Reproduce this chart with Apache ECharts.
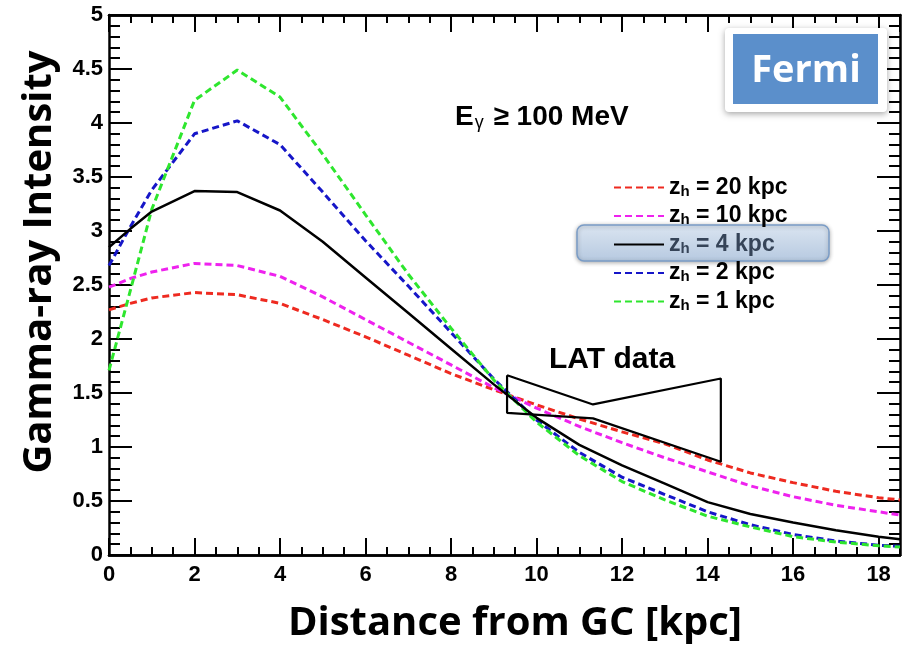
<!DOCTYPE html>
<html><head><meta charset="utf-8">
<script src="https://cdn.jsdelivr.net/npm/echarts@6/dist/echarts.min.js"></script>
<style>html,body{margin:0;padding:0;background:#fff}#c{width:908px;height:646px}</style>
</head><body><div id="c"></div>
<script>
// ---- data ----
const distance = [0, 0.5, 1, 2, 3, 4, 5, 6, 7, 8, 9, 10, 11, 12, 13, 14, 15, 16, 17, 18, 18.5];
const zh20 = [2.27, 2.33, 2.38, 2.43, 2.41, 2.33, 2.18, 2.02, 1.85, 1.68, 1.53, 1.39, 1.26, 1.14, 1.03, 0.88, 0.76, 0.67, 0.59, 0.53, 0.51];
const zh10 = [2.48, 2.56, 2.62, 2.70, 2.68, 2.58, 2.39, 2.18, 1.97, 1.76, 1.55, 1.36, 1.19, 1.04, 0.90, 0.77, 0.64, 0.54, 0.46, 0.40, 0.37];
const zh4  = [2.85, 3.02, 3.18, 3.37, 3.36, 3.19, 2.90, 2.57, 2.24, 1.91, 1.58, 1.27, 1.02, 0.83, 0.66, 0.49, 0.38, 0.30, 0.23, 0.17, 0.145];
const zh2  = [2.68, 3.04, 3.38, 3.90, 4.02, 3.80, 3.36, 2.91, 2.49, 2.06, 1.63, 1.25, 0.95, 0.72, 0.56, 0.40, 0.28, 0.19, 0.13, 0.09, 0.08];
const zh1  = [1.71, 2.45, 3.20, 4.21, 4.49, 4.24, 3.71, 3.15, 2.60, 2.10, 1.62, 1.23, 0.92, 0.68, 0.51, 0.36, 0.26, 0.17, 0.12, 0.085, 0.075];
const latX = [9.31, 11.32, 14.31, 14.31, 11.32, 9.31, 9.31];
const latY = [1.665, 1.394, 1.634, 0.863, 1.265, 1.316, 1.665];
const seriesNames = ['z_h = 20 kpc', 'z_h = 10 kpc', 'z_h = 4 kpc', 'z_h = 2 kpc', 'z_h = 1 kpc'];
const xLabels = [0, 2, 4, 6, 8, 10, 12, 14, 16, 18];
const yTitle = 'Gamma-ray Intensity';
const xTitle = 'Distance from GC [kpc]';

// ---- chart ----
const pair = (xs, ys) => xs.map((x, i) => [x, ys[i]]);
const HEL = '"Liberation Sans", Arial, Helvetica, sans-serif';
const tickStyle = {color: '#000', width: 2};
const axLine = {show: true, onZero: false, lineStyle: {color: '#000', width: 2.5}};

function xAx(pos, major, labels) {
  return {
    type: 'value', min: 0, max: 18.5, interval: major ? 2 : 0.5, position: pos,
    axisLine: axLine,
    axisTick: {inside: true, length: major ? 17 : 8, lineStyle: tickStyle},
    splitLine: {show: false},
    axisLabel: labels ? {show: true, showMaxLabel: false, fontFamily: HEL, fontWeight: 'bold', fontSize: 22, color: '#000', margin: 9,
      formatter: v => (xLabels.indexOf(v) >= 0 ? String(v) : '')} : {show: false}
  };
}
function yAx(pos, labels) {
  return {
    type: 'value', min: 0, max: 5, interval: 0.5, position: pos,
    axisLine: axLine,
    axisTick: {inside: true, length: 23, lineStyle: tickStyle},
    minorTick: {show: true, splitNumber: 5, length: 11, lineStyle: tickStyle},
    splitLine: {show: false}, minorSplitLine: {show: false},
    axisLabel: labels ? {show: true, fontFamily: HEL, fontWeight: 'bold', fontSize: 22, color: '#000', margin: 6} : {show: false}
  };
}

const dash = [7, 4];
function curve(name, ys, color, type, width) {
  return {
    name, type: 'line', data: pair(distance, ys), xAxisIndex: 0, yAxisIndex: 0,
    symbol: 'none', smooth: false, z: 3,
    lineStyle: {color, width, type}, itemStyle: {color}
  };
}

const chart = echarts.init(document.getElementById('c'));
chart.setOption({
  animation: false,
  backgroundColor: '#fff',
  grid: {left: 109, right: 8, top: 15, bottom: 91, containLabel: false},
  xAxis: [xAx('bottom', false, false), xAx('bottom', true, true), xAx('top', false, false), xAx('top', true, false)],
  yAxis: [yAx('left', true), yAx('right', false)],
  legend: {
    show: true, orient: 'vertical', left: 613, top: 176, padding: 0, z: 6,
    itemWidth: 50, itemHeight: 14, itemGap: 5.5,
    itemStyle: {opacity: 0},
    data: seriesNames.map((n, i) => ({name: n, textStyle: {color: i === 2 ? '#364458' : '#000'}})),
    formatter: n => '{z|z}{h|h}{t|' + n.slice(3) + '}',
    textStyle: {
      fontFamily: HEL, fontWeight: 'bold', fontSize: 23,
      rich: {
        z: {fontFamily: HEL, fontWeight: 'bold', fontSize: 23, lineHeight: 26},
        h: {fontFamily: HEL, fontWeight: 'bold', fontSize: 15, lineHeight: 18, padding: [8, 0, 0, 0]},
        t: {fontFamily: HEL, fontWeight: 'bold', fontSize: 23, lineHeight: 26}
      }
    }
  },
  graphic: [
    {type: 'rect', z: 1, shape: {x: 577, y: 225, width: 252, height: 36, r: 7},
      style: {fill: new echarts.graphic.LinearGradient(0, 0, 0, 1, [{offset: 0, color: '#dbe5f1'}, {offset: 1, color: '#b6c9e0'}]),
        stroke: '#7a9cc6', lineWidth: 1.5, shadowBlur: 4, shadowColor: 'rgba(0,0,0,0.3)', shadowOffsetY: 1}},
    {type: 'rect', z: 1, shape: {x: 725, y: 28, width: 162, height: 84, r: 4},
      style: {fill: '#fff', shadowBlur: 6, shadowColor: 'rgba(0,0,0,0.35)', shadowOffsetY: 2}},
    {type: 'rect', z: 2, shape: {x: 733, y: 34, width: 145, height: 70},
      style: {fill: '#5b8fcb'}},
    {type: 'text', z: 3, x: 806, y: 71,
      style: {text: 'Fermi', fill: '#fff', font: 'bold 38px "Open Sans", sans-serif', textAlign: 'center', textVerticalAlign: 'middle'}},
    {type: 'text', z: 3, x: 455, y: 117,
      style: {text: '{e|E}{g|γ}{t| ≥ 100 MeV}', fill: '#000', textVerticalAlign: 'middle',
        rich: {e: {fontFamily: HEL, fontWeight: 'bold', fontSize: 28, lineHeight: 30},
               g: {fontFamily: HEL, fontSize: 18, lineHeight: 18, padding: [12, 2, 0, 1]},
               t: {fontFamily: HEL, fontWeight: 'bold', fontSize: 28, lineHeight: 30}}}},
    {type: 'text', z: 3, x: 549, y: 360,
      style: {text: 'LAT data', fill: '#000', font: 'bold 30px "Liberation Sans", Arial, sans-serif', textVerticalAlign: 'middle'}},
    {type: 'text', z: 3, x: 40, y: 262, rotation: Math.PI / 2,
      style: {text: yTitle, fill: '#000', font: 'bold 40px "Open Sans", sans-serif', textAlign: 'center', textVerticalAlign: 'middle'}},
    {type: 'text', z: 3, x: 515, y: 624,
      style: {text: xTitle, fill: '#000', font: 'bold 40px "Open Sans", sans-serif', textAlign: 'center', textVerticalAlign: 'middle'}}
  ],
  series: [
    curve(seriesNames[0], zh20, '#ee2a20', dash, 3),
    curve(seriesNames[1], zh10, '#ee22ee', dash, 3),
    curve(seriesNames[3], zh2, '#1616c8', dash, 3),
    curve(seriesNames[4], zh1, '#2ee62e', dash, 3),
    curve(seriesNames[2], zh4, '#000000', 'solid', 2.5),
    {name: 'LAT data', type: 'line', data: pair(latX, latY), symbol: 'none', z: 4,
      lineStyle: {color: '#000', width: 2.2}}
  ]
});
</script></body></html>
